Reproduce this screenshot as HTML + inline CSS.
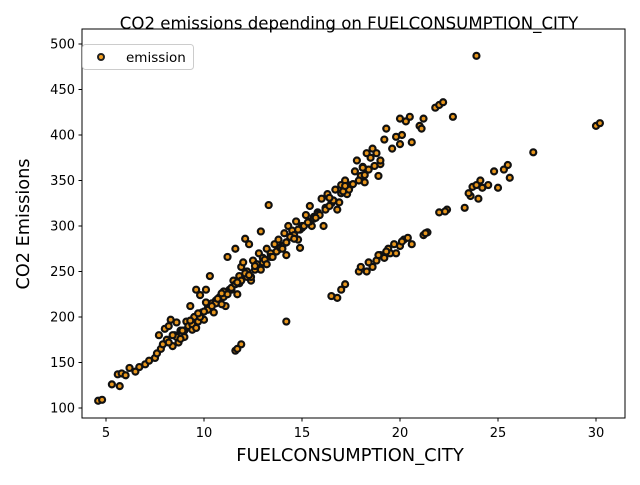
<!DOCTYPE html>
<html><head><meta charset="utf-8"><style>
body{margin:0;background:#fff}
svg text{font-family:"DejaVu Sans","Liberation Sans",sans-serif;fill:#000}
</style></head><body>
<svg id="chart" width="640" height="480" xmlns="http://www.w3.org/2000/svg">
<rect width="640" height="480" fill="#fff"/>
<text x="349" y="29" font-size="16.6" text-anchor="middle">CO2 emissions depending on FUELCONSUMPTION_CITY</text>
<g id="marks"></g>
<rect x="82" y="29" width="543" height="389" fill="none" stroke="#000" stroke-width="1"/>
<g id="ticks"></g>
<text x="350" y="461" font-size="17.9" text-anchor="middle">FUELCONSUMPTION_CITY</text>
<text transform="translate(29,224) rotate(-90)" font-size="17.7" text-anchor="middle">CO2 Emissions</text>
<g>
<rect x="82.5" y="44.5" width="111" height="25" rx="3" fill="#fff" stroke="#ccc"/>
<circle cx="101" cy="57" r="3" fill="#f5a020" stroke="#222" stroke-width="2"/>
<text x="126" y="62" font-size="13.5">emission</text>
</g>
</svg>
<script>
const fuelCity=[4.6,4.8,5.3,5.6,5.7,5.8,6.0,6.2,6.5,6.7,7.0,7.2,7.5,7.6,7.7,7.8,7.9,8.0,8.1,8.2,8.3,8.4,8.5,8.6,8.7,8.8,9.0,9.1,9.2,9.3,9.4,9.5,9.6,9.7,9.8,9.9,10.0,10.1,10.2,10.3,10.4,10.5,10.6,10.8,11.0,11.1,11.2,11.3,11.5,11.6,11.7,11.8,11.9,12.0,12.1,12.2,12.3,12.4,12.5,12.7,12.8,12.9,13.0,13.2,13.3,13.4,13.6,13.8,14.0,14.1,14.2,14.3,14.5,14.7,14.8,14.9,15.0,15.2,15.4,15.5,15.6,15.8,16.0,16.1,16.3,16.5,16.7,16.8,17.0,17.2,17.3,17.5,17.7,17.8,18.0,18.1,18.2,18.3,18.5,18.6,18.8,18.9,19.0,19.2,19.3,19.6,19.8,20.0,20.0,20.1,20.3,20.5,20.6,21.0,21.2,21.1,21.8,22.0,22.2,22.7,
8.2,8.6,9.0,9.4,9.8,10.2,10.6,11.0,11.4,11.8,12.2,12.6,13.0,13.4,13.8,14.2,14.6,15.0,15.4,15.8,16.2,16.6,17.0,17.4,
8.4,8.9,9.3,9.6,10.0,10.4,10.7,10.9,11.2,11.4,11.6,11.9,12.1,12.4,12.6,12.9,13.1,13.5,13.7,13.9,14.2,14.4,14.6,14.9,15.1,15.3,15.6,15.9,16.2,16.4,16.6,16.9,17.1,17.4,17.6,17.9,18.2,18.4,18.7,19.0,10.1,10.9,11.7,12.3,13.2,14.0,14.8,15.7,16.4,17.2,18.1,9.7,8.8,
11.6,11.7,11.9,16.5,16.8,17.0,17.2,17.9,18.0,18.3,18.6,18.8,19.0,19.2,19.4,19.5,19.8,20.0,20.2,20.4,20.6,21.2,21.4,22.0,22.4,23.3,23.6,23.7,23.9,24.0,24.1,24.5,24.8,25.0,25.3,25.5,25.6,26.8,30.0,30.2,14.2,23.9,
18.4,18.9,19.3,19.7,20.1,21.3,22.3,23.5,24.2];
const emission=[108,109,126,137,124,138,136,144,140,145,148,152,155,160,180,165,170,187,175,190,197,168,180,194,172,185,178,195,190,212,186,200,230,195,224,205,197,230,210,245,215,205,218,222,228,212,266,230,240,275,225,245,255,260,286,250,280,240,262,258,270,294,265,275,323,270,280,285,278,292,268,300,295,305,285,276,300,312,322,300,310,315,330,300,335,325,340,318,345,350,335,345,360,372,355,365,348,380,375,385,380,355,368,395,407,385,398,390,418,400,415,420,392,410,418,407,430,433,436,420,
172,178,185,192,200,208,215,222,230,237,244,252,260,266,274,282,290,298,305,313,320,328,336,343,
180,185,196,188,206,212,220,214,225,232,236,240,248,244,256,252,263,266,272,276,282,288,286,296,300,304,308,312,318,322,328,326,338,340,346,350,356,362,366,372,216,226,238,246,258,275,296,309,331,344,364,204,176,
163,165,170,223,221,230,236,250,255,250,255,262,268,265,275,270,270,278,285,287,280,290,293,315,318,320,333,343,345,330,350,345,360,342,362,367,353,381,410,413,195,487,
260,268,272,280,283,292,316,336,342];
const xTicks=[5,10,15,20,25,30];
const yTicks=[100,150,200,250,300,350,400,450,500];
const xs=v=>8+19.6*v;
const ys=v=>408-0.91*(v-100);
const NS="http://www.w3.org/2000/svg";
const marks=document.getElementById('marks');
fuelCity.forEach((fx,i)=>{
 const c=document.createElementNS(NS,'circle');
 c.setAttribute('cx',xs(fx));c.setAttribute('cy',ys(emission[i]));c.setAttribute('r',3);
 c.setAttribute('fill','#e8961c');c.setAttribute('stroke','#111');c.setAttribute('stroke-width',2.2);
 
 
 marks.appendChild(c);
});
const tg=document.getElementById('ticks');
xTicks.forEach(t=>{
 const l=document.createElementNS(NS,'line');
 l.setAttribute('x1',xs(t));l.setAttribute('x2',xs(t));l.setAttribute('y1',418);l.setAttribute('y2',421.5);l.setAttribute('stroke','#000');
 
 
 tg.appendChild(l);
 const tx=document.createElementNS(NS,'text');
 tx.setAttribute('x',xs(t));tx.setAttribute('y',437);tx.setAttribute('font-size',13);tx.setAttribute('text-anchor','middle');tx.textContent=t;
 
 
 tg.appendChild(tx);
});
yTicks.forEach(t=>{
 const l=document.createElementNS(NS,'line');
 l.setAttribute('x1',78.5);l.setAttribute('x2',82);l.setAttribute('y1',ys(t));l.setAttribute('y2',ys(t));l.setAttribute('stroke','#000');
 
 
 tg.appendChild(l);
 const tx=document.createElementNS(NS,'text');
 tx.setAttribute('x',75);tx.setAttribute('y',ys(t)+4.5);tx.setAttribute('font-size',13);tx.setAttribute('text-anchor','end');tx.textContent=t;
 
 
 tg.appendChild(tx);
});
</script>
</body></html>
